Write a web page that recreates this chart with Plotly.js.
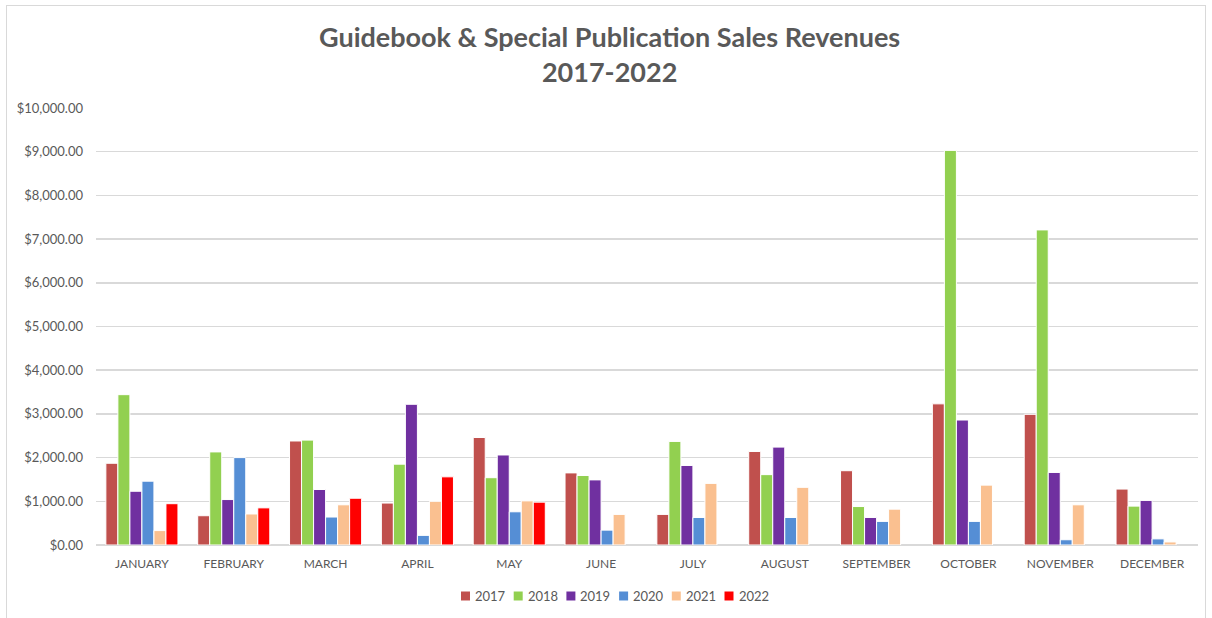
<!DOCTYPE html>
<html>
<head>
<meta charset="utf-8">
<script src="https://cdn.plot.ly/plotly-3.0.1.min.js"></script>
<style>
html,body{margin:0;padding:0;background:#fff;}
#frame{position:absolute;left:6px;top:5px;width:1200px;height:620px;border:1px solid #D9D9D9;box-sizing:border-box;}
#chart{position:absolute;left:0;top:0;width:1212px;height:618px;}
</style>
</head>
<body>
<div id="chart"></div>
<div id="frame"></div>
<script>
const months = ["JANUARY","FEBRUARY","MARCH","APRIL","MAY","JUNE","JULY","AUGUST","SEPTEMBER","OCTOBER","NOVEMBER","DECEMBER"];
const years = ["2017","2018","2019","2020","2021","2022"];
const sales2017 = [1870, 670, 2380, 960, 2460, 1650, 700, 2140, 1700, 3230, 2990, 1280];
const sales2018 = [3440, 2130, 2400, 1850, 1540, 1590, 2370, 1610, 880, 9030, 7210, 890];
const sales2019 = [1230, 1040, 1270, 3220, 2060, 1490, 1820, 2240, 630, 2860, 1660, 1020];
const sales2020 = [1460, 2000, 640, 220, 760, 340, 630, 630, 540, 540, 120, 140];
const sales2021 = [330, 710, 920, 1000, 1010, 700, 1410, 1320, 820, 1370, 920, 70];
const sales2022 = [945, 850, 1070, 1560, 980, null, null, null, null, null, null, null];
const seriesValues = [sales2017, sales2018, sales2019, sales2020, sales2021, sales2022];
const colors = ["#C0504D", "#92D050", "#7030A0", "#558ED5", "#FAC090", "#FF0000"];

const traces = years.map((y, i) => ({
  type: "bar",
  name: y,
  x: months,
  y: seriesValues[i],
  marker: {color: colors[i], line: {color: "#FFFFFF", width: 1}},
  hoverinfo: "x+y+name"
}));

const font = "Lato, 'Open Sans', sans-serif";
const W = 1212, H = 618;
const M = {l: 96, r: 14, t: 108, b: 73};
const plotW = W - M.l - M.r, plotH = H - M.t - M.b;
const toPaperX = px => (px - M.l) / plotW;
const toPaperY = py => (H - M.b - py) / plotH;

// Legend (drawn compactly, one entry per series, in the series colours)
const legStartX = 461, legStep = 52.7, legY = 596, sq = 9;
const legendShapes = years.map((y, i) => ({
  type: "rect", xref: "paper", yref: "paper",
  x0: toPaperX(legStartX + i * legStep), x1: toPaperX(legStartX + i * legStep + sq),
  y0: toPaperY(legY + sq / 2), y1: toPaperY(legY - sq / 2),
  fillcolor: colors[i], line: {width: 0}
}));
const legendTexts = years.map((y, i) => ({
  text: y, xref: "paper", yref: "paper",
  x: toPaperX(legStartX + i * legStep + sq + 3), xanchor: "left",
  y: toPaperY(legY), yanchor: "middle",
  showarrow: false,
  font: {family: font, size: 13, color: "#595959"}
}));

const layout = {
  width: W,
  height: H,
  margin: M,
  paper_bgcolor: "#FFFFFF",
  plot_bgcolor: "#FFFFFF",
  font: {family: font, color: "#595959", size: 13},
  title: {
    text: "<b>Guidebook & Special Publication Sales Revenues</b><br><b>2017-2022</b>",
    font: {family: font, size: 27, color: "#595959"},
    x: 0.503, xanchor: "center",
    xref: "container",
    y: 0.924, yref: "container", yanchor: "middle"
  },
  barmode: "group",
  bargap: 0.215,
  bargroupgap: 0,
  xaxis: {
    type: "category",
    showgrid: false,
    showline: false,
    ticks: "",
    ticklabelstandoff: 10,
    tickfont: {family: font, size: 12, color: "#595959"},
    fixedrange: true
  },
  yaxis: {
    range: [0, 10000],
    dtick: 1000,
    tickformat: "$,.2f",
    gridcolor: "#D9D9D9",
    gridwidth: 1.5,
    zeroline: true,
    zerolinecolor: "#D9D9D9",
    zerolinewidth: 1.5,
    showline: false,
    ticks: "",
    ticklabelstandoff: 12,
    tickfont: {family: font, size: 13, color: "#595959"},
    fixedrange: true
  },
  showlegend: false,
  shapes: legendShapes,
  annotations: legendTexts
};

Plotly.newPlot("chart", traces, layout, {displayModeBar: false, staticPlot: true});
</script>
</body>
</html>
